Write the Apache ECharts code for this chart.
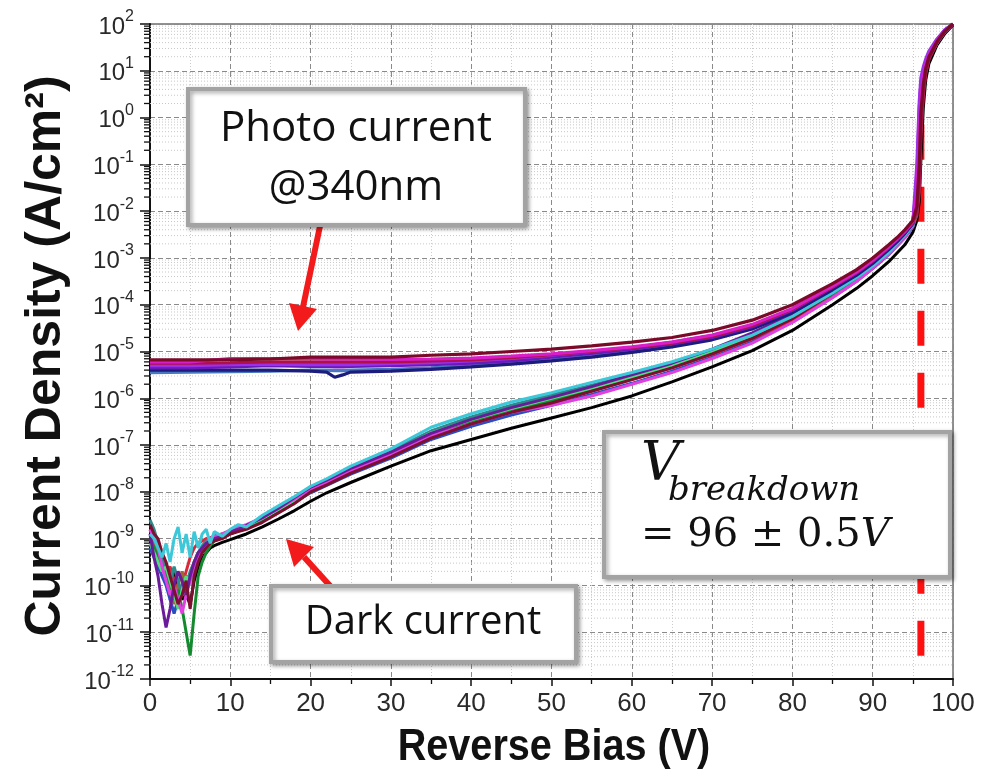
<!DOCTYPE html>
<html>
<head>
<meta charset="utf-8">
<script src="https://cdn.jsdelivr.net/npm/echarts@6/dist/echarts.min.js"></script>
<style>
html,body{margin:0;padding:0;background:#fff;}
#chart{width:984px;height:778px;}
</style>
</head>
<body>
<div id="chart"></div>
<script>
// Bias points of the dark-current sweeps (V)
const biasDark = [0,0.5,1,1.5,2,2.5,3,3.5,4,4.5,5,5.5,6,6.5,7,7.5,8,9,10,11,12,14,16,18,20,22,25,30,35,40,45,50,55,60,65,70,75,80,85,88,90,92,93,94,95,95.5,95.8,96,96.3,96.6,97,98,99,100];
// Bias points of the photo-current sweeps (V)
const biasPhoto = [0,5,10,15,20,22,23,24,25,30,35,40,45,50,55,60,65,70,75,80,85,88,90,92,93,94,95,95.5,95.8,96,96.3,96.6,97,98,99,100];

// Dark current, log10 of J (A/cm^2), one array per device
const darkBlack   = [-9.0,-9.1,-9.3,-9.5,-9.6,-9.8,-9.7,-10.0,-10.3,-10.2,-10.4,-9.9,-9.6,-9.4,-9.3,-9.2,-9.15,-9.08,-9.02,-8.96,-8.9,-8.75,-8.58,-8.4,-8.2,-8.02,-7.8,-7.45,-7.12,-6.88,-6.64,-6.42,-6.2,-5.95,-5.65,-5.33,-4.98,-4.55,-4.0,-3.65,-3.38,-3.08,-2.9,-2.72,-2.45,-2.2,-1.8,-0.9,0.2,0.8,1.15,1.55,1.8,1.98];
const darkBlue    = [-9.2,-9.4,-9.6,-9.8,-10.0,-10.3,-10.6,-10.3,-10.0,-9.8,-9.9,-9.6,-9.4,-9.25,-9.15,-9.08,-9.02,-8.96,-8.9,-8.83,-8.77,-8.62,-8.42,-8.22,-8.02,-7.86,-7.62,-7.28,-6.88,-6.6,-6.36,-6.15,-5.92,-5.68,-5.42,-5.12,-4.79,-4.37,-3.84,-3.5,-3.23,-2.93,-2.75,-2.57,-2.34,-2.0,-1.2,0.0,0.65,1.0,1.28,1.6,1.84,2.0];
const darkRed     = [-8.9,-9.1,-9.3,-9.5,-9.7,-9.6,-9.9,-10.2,-10.0,-9.7,-9.4,-9.2,-9.1,-9.05,-9.0,-8.98,-8.95,-8.9,-8.85,-8.78,-8.72,-8.57,-8.37,-8.17,-7.96,-7.8,-7.56,-7.2,-6.78,-6.5,-6.26,-6.06,-5.84,-5.6,-5.35,-5.06,-4.73,-4.32,-3.8,-3.46,-3.2,-2.9,-2.72,-2.54,-2.32,-2.1,-1.6,-0.4,0.5,0.95,1.25,1.6,1.84,2.0];
const darkOlive   = [-8.8,-9.0,-9.3,-9.5,-9.8,-10.1,-10.4,-10.0,-9.7,-10.1,-9.8,-9.5,-9.3,-9.2,-9.1,-9.05,-9.0,-8.93,-8.86,-8.8,-8.74,-8.58,-8.38,-8.17,-7.96,-7.79,-7.53,-7.17,-6.74,-6.47,-6.24,-6.03,-5.8,-5.56,-5.3,-5.0,-4.68,-4.27,-3.76,-3.42,-3.16,-2.87,-2.7,-2.52,-2.29,-1.9,-0.95,0.15,0.72,1.05,1.3,1.62,1.85,2.0];
const darkTeal    = [-8.6,-8.8,-9.1,-9.4,-9.7,-9.9,-9.6,-9.9,-10.2,-10.0,-9.7,-9.5,-9.3,-9.15,-9.05,-9.0,-8.95,-8.9,-8.84,-8.78,-8.72,-8.56,-8.36,-8.14,-7.93,-7.76,-7.5,-7.12,-6.7,-6.4,-6.15,-5.93,-5.72,-5.5,-5.27,-4.98,-4.66,-4.27,-3.77,-3.45,-3.19,-2.9,-2.72,-2.55,-2.33,-2.0,-1.3,-0.1,0.6,1.0,1.28,1.6,1.84,2.0];
const darkGreen   = [-9.0,-9.2,-9.4,-9.6,-9.8,-10.0,-10.3,-10.1,-10.5,-11.0,-11.5,-10.6,-9.8,-9.5,-9.3,-9.15,-9.05,-8.98,-8.9,-8.83,-8.78,-8.6,-8.4,-8.2,-8.0,-7.82,-7.58,-7.22,-6.78,-6.5,-6.27,-6.05,-5.82,-5.58,-5.32,-5.02,-4.7,-4.28,-3.76,-3.42,-3.16,-2.86,-2.68,-2.5,-2.27,-1.95,-1.0,0.1,0.7,1.05,1.3,1.62,1.85,2.0];
const darkLime    = [-9.1,-9.3,-9.5,-9.7,-9.6,-9.9,-10.2,-10.5,-10.1,-9.8,-10.0,-9.7,-9.45,-9.3,-9.2,-9.1,-9.02,-8.95,-8.88,-8.8,-8.74,-8.57,-8.38,-8.18,-7.97,-7.8,-7.55,-7.18,-6.74,-6.46,-6.22,-6.0,-5.78,-5.55,-5.3,-5.0,-4.68,-4.26,-3.74,-3.4,-3.14,-2.84,-2.67,-2.49,-2.26,-1.9,-0.9,0.2,0.75,1.07,1.3,1.62,1.85,2.0];
const darkMagenta = [-8.8,-9.0,-9.2,-9.6,-9.9,-10.2,-10.0,-10.3,-10.6,-10.2,-9.9,-9.6,-9.35,-9.2,-9.1,-9.0,-8.95,-8.9,-8.82,-8.75,-8.7,-8.55,-8.35,-8.15,-7.95,-7.8,-7.55,-7.2,-6.8,-6.55,-6.3,-6.15,-5.95,-5.7,-5.45,-5.15,-4.82,-4.38,-3.85,-3.5,-3.22,-2.92,-2.75,-2.57,-2.32,-1.7,-0.6,0.4,0.85,1.1,1.32,1.63,1.86,2.0];
const darkPurple  = [-8.9,-9.4,-9.8,-10.4,-10.9,-10.5,-10.0,-9.7,-9.9,-10.2,-9.8,-9.5,-9.3,-9.2,-9.1,-9.05,-9.0,-8.95,-8.85,-8.8,-8.72,-8.55,-8.35,-8.12,-7.9,-7.75,-7.5,-7.15,-6.75,-6.45,-6.2,-5.98,-5.75,-5.5,-5.25,-4.95,-4.6,-4.2,-3.65,-3.3,-3.05,-2.75,-2.6,-2.42,-2.2,-1.5,-0.4,0.5,0.9,1.15,1.35,1.65,1.87,2.0];
const darkMaroon  = [-8.7,-8.9,-9.0,-9.3,-9.5,-9.8,-10.1,-10.4,-10.2,-9.9,-10.5,-9.8,-9.5,-9.3,-9.2,-9.1,-9.05,-9.0,-8.9,-8.85,-8.8,-8.65,-8.45,-8.25,-8.0,-7.85,-7.6,-7.25,-6.85,-6.55,-6.3,-6.1,-5.85,-5.6,-5.35,-5.05,-4.72,-4.3,-3.75,-3.4,-3.15,-2.85,-2.7,-2.52,-2.3,-2.0,-1.2,-0.2,0.6,1.0,1.3,1.62,1.85,2.0];
const darkCyan    = [-8.9,-9.0,-9.2,-9.4,-9.1,-9.5,-9.0,-8.75,-9.3,-8.9,-9.4,-8.85,-9.2,-8.9,-8.8,-9.1,-8.85,-8.95,-8.8,-8.7,-8.75,-8.5,-8.3,-8.1,-7.88,-7.72,-7.45,-7.08,-6.62,-6.33,-6.08,-5.88,-5.66,-5.45,-5.22,-4.95,-4.65,-4.25,-3.75,-3.42,-3.17,-2.88,-2.7,-2.52,-2.3,-1.95,-1.1,0.0,0.65,1.02,1.28,1.6,1.84,2.0];

// Photo current under 340 nm illumination, log10 of J (A/cm^2)
const photoMaroon  = [-5.18,-5.18,-5.18,-5.16,-5.12,-5.12,-5.12,-5.12,-5.12,-5.12,-5.08,-5.05,-5.0,-4.95,-4.88,-4.8,-4.7,-4.55,-4.33,-4.0,-3.55,-3.25,-3.0,-2.72,-2.57,-2.4,-2.2,-1.9,-1.0,0.1,0.7,1.05,1.3,1.62,1.85,2.0];
const photoMagenta = [-5.22,-5.22,-5.15,-5.15,-5.15,-5.16,-5.16,-5.16,-5.16,-5.17,-5.16,-5.14,-5.1,-5.05,-4.98,-4.9,-4.8,-4.65,-4.42,-4.08,-3.6,-3.3,-3.05,-2.76,-2.6,-2.43,-2.22,-1.6,-0.5,0.45,0.88,1.12,1.34,1.64,1.86,2.0];
const photoPurple  = [-5.35,-5.35,-5.33,-5.3,-5.32,-5.32,-5.33,-5.33,-5.32,-5.3,-5.28,-5.25,-5.2,-5.12,-5.04,-4.95,-4.84,-4.7,-4.47,-4.12,-3.63,-3.32,-3.07,-2.78,-2.62,-2.45,-2.25,-1.3,0.2,0.75,1.0,1.2,1.38,1.66,1.87,2.0];
const photoNavy    = [-5.4,-5.4,-5.4,-5.4,-5.42,-5.44,-5.55,-5.5,-5.44,-5.42,-5.38,-5.33,-5.27,-5.2,-5.12,-5.02,-4.9,-4.75,-4.52,-4.17,-3.68,-3.37,-3.12,-2.82,-2.66,-2.48,-2.27,-1.8,-0.8,0.3,0.8,1.08,1.32,1.63,1.86,2.0];
const photoViolet  = [-5.3,-5.3,-5.28,-5.27,-5.28,-5.28,-5.28,-5.28,-5.28,-5.26,-5.24,-5.2,-5.15,-5.08,-5.0,-4.92,-4.8,-4.66,-4.44,-4.1,-3.62,-3.31,-3.06,-2.77,-2.61,-2.44,-2.24,-1.0,0.35,0.85,1.08,1.25,1.42,1.68,1.88,2.0];
const photoCrimson = [-5.25,-5.25,-5.24,-5.22,-5.22,-5.22,-5.22,-5.22,-5.22,-5.22,-5.2,-5.18,-5.13,-5.07,-5.0,-4.92,-4.82,-4.68,-4.45,-4.1,-3.62,-3.31,-3.06,-2.77,-2.61,-2.44,-2.24,-2.0,-1.4,-0.3,0.5,0.95,1.25,1.6,1.84,2.0];
const photoSteel   = [-5.45,-5.44,-5.43,-5.42,-5.4,-5.4,-5.41,-5.41,-5.4,-5.38,-5.35,-5.3,-5.25,-5.18,-5.1,-5.0,-4.88,-4.73,-4.5,-4.15,-3.66,-3.35,-3.1,-2.8,-2.64,-2.47,-2.26,-1.95,-1.1,0.0,0.65,1.02,1.28,1.6,1.84,2.0];

// Breakdown voltage and spread
const breakdownV = 96;
const breakdownTol = 0.5;
// Extent of the marker line (A/cm^2)
const markerTopJ = 0.7;
const markerBottomJ = 1e-12;

// Axis ranges
const xMin = 0, xMax = 100, xStep = 10;
const yMin = 1e-12, yMax = 1e2;

const darkSet = [
  ['#000000', darkBlack], ['#2a4ec0', darkBlue], ['#d8283c', darkRed], ['#9a6a30', darkOlive],
  ['#2e8b8b', darkTeal], ['#138a2e', darkGreen], ['#4fe07c', darkLime], ['#e040e0', darkMagenta],
  ['#6a1b9a', darkPurple], ['#7b1030', darkMaroon], ['#3cc8d8', darkCyan]
];
const photoSet = [
  ['#4a78c0', photoSteel], ['#1c1c7c', photoNavy], ['#6a1ab8', photoPurple], ['#9b30e8', photoViolet],
  ['#b01048', photoCrimson], ['#d81ec8', photoMagenta], ['#7a0a28', photoMaroon]
];

// Log-decade minor positions (2..9 x 10^n)
const minorY = [];
for (let e = -12; e < 2; e++) {
  for (let m = 2; m <= 9; m++) minorY.push([0, m * Math.pow(10, e)]);
}

function curve(bias, logs, color, width) {
  return {
    type: 'line',
    data: bias.map((v, i) => [v, Math.pow(10, logs[i])]),
    showSymbol: false,
    symbol: 'none',
    lineStyle: { color: color, width: width },
    z: 3,
    silent: true
  };
}

const series = [];
// minor grid lines and minor ticks on the log axis
series.push({
  type: 'custom',
  data: minorY,
  clip: false,
  silent: true,
  z: 1,
  renderItem: function (params, api) {
    const a = api.coord([xMin, api.value(1)]);
    const b = api.coord([xMax, api.value(1)]);
    return {
      type: 'group',
      children: [
        { type: 'line', shape: { x1: a[0], y1: a[1], x2: b[0], y2: b[1] },
          style: { stroke: '#c8c8c8', lineWidth: 1, lineDash: [1, 2] } },
        { type: 'line', shape: { x1: a[0] - 6, y1: a[1], x2: a[0], y2: a[1] },
          style: { stroke: '#111', lineWidth: 1.3 } }
      ]
    };
  }
});
// breakdown marker
series.push({
  type: 'line',
  data: [[breakdownV, markerTopJ], [breakdownV, markerBottomJ]],
  symbol: 'none',
  silent: true,
  z: 2,
  lineStyle: { color: '#ff1010', width: 7, type: [35, 27], cap: 'butt' }
});
darkSet.forEach(d => series.push(curve(biasDark, d[1], d[0], 3)));
photoSet.forEach(d => series.push(curve(biasPhoto, d[1], d[0], 3.2)));

const chart = echarts.init(document.getElementById('chart'), null, { renderer: 'canvas' });

const boxStyle = { fill: '#fff', stroke: '#a3a3a3', lineWidth: 4,
  shadowBlur: 4, shadowColor: 'rgba(0,0,0,0.35)', shadowOffsetX: 2, shadowOffsetY: 2 };
const red = '#f21a1a';
const calloutFont = '"Open Sans", "Noto Sans", sans-serif';
const mathFont = '"DejaVu Serif", serif';

chart.setOption({
  animation: false,
  backgroundColor: '#fff',
  grid: { left: 150, right: 31, top: 24, bottom: 99, show: true, borderColor: '#222', borderWidth: 1 },
  xAxis: {
    type: 'value', min: xMin, max: xMax, interval: xStep,
    axisLine: { show: true, onZero: false, lineStyle: { color: '#111', width: 2 } },
    axisTick: { show: true, length: 7, lineStyle: { color: '#111', width: 1.5 } },
    minorTick: { show: true, splitNumber: 2, length: 5, lineStyle: { color: '#111', width: 1.3 } },
    axisLabel: { fontSize: 26, fontFamily: '"Liberation Sans", Arial, sans-serif', color: '#2a2a2a', margin: 12 },
    splitLine: { show: true, lineStyle: { color: '#8a8a8a', width: 1, type: [5, 3] } },
    minorSplitLine: { show: true, lineStyle: { color: '#cccccc', width: 1, type: [1, 2] } }
  },
  yAxis: {
    type: 'log', logBase: 10, min: yMin, max: yMax, interval: 1, splitNumber: 14,
    axisLine: { show: true, onZero: false, lineStyle: { color: '#111', width: 2 } },
    axisTick: { show: true, length: 10, lineStyle: { color: '#111', width: 1.5 } },
    axisLabel: {
      margin: 16,
      showMinLabel: true, showMaxLabel: true,
      formatter: function (v) {
        const e = Math.round(Math.log10(v));
        return '{b|10}{s|' + e + '}';
      },
      rich: {
        b: { fontSize: 24, fontFamily: '"Liberation Sans", Arial, sans-serif', color: '#2a2a2a', verticalAlign: 'bottom', lineHeight: 30 },
        s: { fontSize: 16, fontFamily: '"Liberation Sans", Arial, sans-serif', color: '#2a2a2a', verticalAlign: 'top', lineHeight: 16 }
      }
    },
    splitLine: { show: true, lineStyle: { color: '#8a8a8a', width: 1, type: [5, 3] } }
  },
  series: series,
  graphic: [
    // axis titles
    { type: 'text', x: 554, y: 748, scaleX: 0.9, z: 100,
      style: { text: 'Reverse Bias (V)', font: 'bold 44px "Liberation Sans", Arial, sans-serif',
        fill: '#111', textAlign: 'center', textVerticalAlign: 'middle' } },
    { type: 'text', x: 46, y: 356, rotation: Math.PI / 2, z: 100,
      style: { text: 'Current Density (A/cm²)', font: 'bold 50px "Liberation Sans", Arial, sans-serif',
        fill: '#111', textAlign: 'center', textVerticalAlign: 'middle' } },

    // arrow to the photo-current curves
    { type: 'line', z: 90, shape: { x1: 320, y1: 226, x2: 303, y2: 307 }, style: { stroke: red, lineWidth: 6 } },
    { type: 'polygon', z: 90, shape: { points: [[298, 331], [317, 309], [289, 303]] }, style: { fill: red } },
    // arrow to the dark-current curves
    { type: 'line', z: 90, shape: { x1: 332, y1: 588, x2: 304, y2: 557 }, style: { stroke: red, lineWidth: 6 } },
    { type: 'polygon', z: 90, shape: { points: [[286, 539], [314, 547], [294, 567]] }, style: { fill: red } },

    // callout: photo current
    { type: 'rect', z: 95, shape: { x: 188, y: 89, width: 337, height: 136 }, style: boxStyle },
    { type: 'text', z: 96, x: 356, y: 129,
      style: { text: 'Photo current', font: '42px ' + calloutFont, fill: '#111', textAlign: 'center', textVerticalAlign: 'middle' } },
    { type: 'text', z: 96, x: 356, y: 188,
      style: { text: '@340nm', font: '42px ' + calloutFont, fill: '#111', textAlign: 'center', textVerticalAlign: 'middle' } },

    // callout: dark current
    { type: 'rect', z: 95, shape: { x: 271, y: 586, width: 305, height: 76 }, style: boxStyle },
    { type: 'text', z: 96, x: 423, y: 623,
      style: { text: 'Dark current', font: '40px ' + calloutFont, fill: '#111', textAlign: 'center', textVerticalAlign: 'middle' } },

    // callout: breakdown voltage
    { type: 'rect', z: 95, shape: { x: 604, y: 432, width: 346, height: 145 }, style: boxStyle },
    { type: 'text', z: 96, x: 641, y: 493,
      style: { text: 'V', font: 'italic 54px ' + mathFont, fill: '#111', textAlign: 'left', textVerticalAlign: 'bottom' } },
    { type: 'text', z: 96, x: 668, y: 508,
      style: { text: 'breakdown', font: 'italic 34px ' + mathFont, fill: '#111', textAlign: 'left', textVerticalAlign: 'bottom' } },
    { type: 'text', z: 96, x: 641, y: 536,
      style: { text: '{n|= ' + breakdownV + ' ± ' + breakdownTol + '}{i|V}', textAlign: 'left', textVerticalAlign: 'middle',
        rich: { n: { font: '40px ' + mathFont, fill: '#111' }, i: { font: 'italic 40px ' + mathFont, fill: '#111' } } } }
  ]
});
</script>
</body>
</html>
